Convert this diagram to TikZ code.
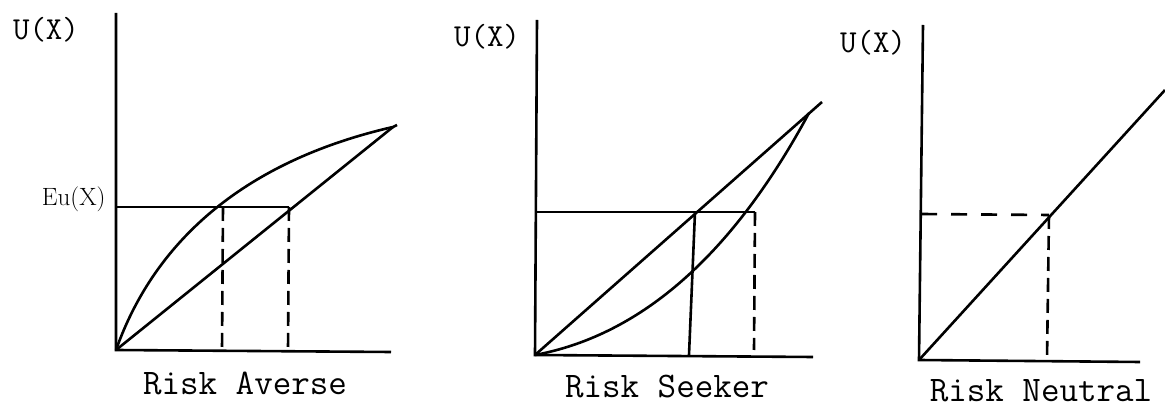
\documentclass[tikz,border=0pt]{standalone}
\usetikzlibrary{positioning}

\tikzset{
  axisline/.style={line width=2.6pt},
  curveline/.style={line width=2.6pt},
  guideline/.style={line width=2.6pt, dash pattern=on 14pt off 7pt},
  caption/.style={font=\ttfamily\fontsize{36}{40}\selectfont, inner sep=0pt},
  ylabel/.style={font=\ttfamily\fontsize{32}{36}\selectfont},
}

\begin{document}
\begin{tikzpicture}[x=1pt,y=1pt]
  \useasboundingbox (0,0) rectangle (1165,409);
  % risk averse
  \begin{scope}[shift={(116,59)}]
    \coordinate (o1) at (0,0);
    \coordinate (ytop1) at (0,337);
    \coordinate (xend1) at (275,-2);
    \coordinate (a1) at (277,223);
    \coordinate (lev1) at (0,143);
    \coordinate (pc1) at (107,143);
    \coordinate (pl1) at (173,143);
    \coordinate (fc1) at (106,0);
    \coordinate (fl1) at (172,0);
    \draw[axisline] (ytop1)--(o1)--(xend1);
    \draw[curveline] (o1) .. controls (40,113) and (133,190) .. (a1) -- ++(4,2);
    \draw[curveline] (o1)--(a1);
    \draw[curveline] (lev1)--(pl1);
    \draw[guideline] (pc1)--(fc1);
    \draw[guideline] (pl1)--(fl1);
    \node[ylabel] (u1) at (-70,320) {U(X)};
    \node[ylabel, anchor=east, font=\fontsize{25}{30}\selectfont] (eu1) at (-7,151) {Eu(X)};
    \node[caption] (cap1) at (129,-33) {Risk Averse};
  \end{scope}
  % risk seeker
  \begin{scope}[shift={(535,54)}]
    \coordinate (o2) at (0,0);
    \coordinate (ytop2) at (2,335);
    \coordinate (xend2) at (278,-2);
    \coordinate (a2) at (274,242);
    \coordinate (lend2) at (287,253);
    \coordinate (lev2) at (0,143);
    \coordinate (pl2) at (160,143);
    \coordinate (pc2) at (220,143);
    \coordinate (fl2) at (154,0);
    \coordinate (fc2) at (219,5);
    \draw[axisline] (ytop2)--(o2)--(xend2);
    \draw[curveline] (o2)--(lend2);
    \draw[curveline] (o2) .. controls (107,20) and (198,101) .. (a2);
    \draw[curveline] (lev2)--(pc2);
    \draw[curveline] (pl2)--(fl2);
    \draw[guideline] (pc2)--(fc2);
    \node[ylabel] (u2) at (-48,318) {U(X)};
    \node[caption] (cap2) at (132,-32) {Risk Seeker};
  \end{scope}
  % risk neutral
  \begin{scope}[shift={(919,49)}]
    \coordinate (o3) at (0,0);
    \coordinate (ytop3) at (4,335);
    \coordinate (xend3) at (221,-2);
    \coordinate (lend3) at (246,270);
    \coordinate (lev3) at (2,146);
    \coordinate (p3) at (130,145);
    \coordinate (f3) at (128,0);
    \draw[axisline] (ytop3)--(o3)--(xend3);
    \draw[curveline] (o3)--(lend3);
    \draw[guideline, dash pattern=on 16pt off 14pt] (lev3)--(p3);
    \draw[guideline] (p3)--(f3);
    \node[ylabel] (u3) at (-46,317) {U(X)};
    \node[caption] (cap3) at (122,-31) {Risk Neutral};
  \end{scope}
\end{tikzpicture}
\end{document}
